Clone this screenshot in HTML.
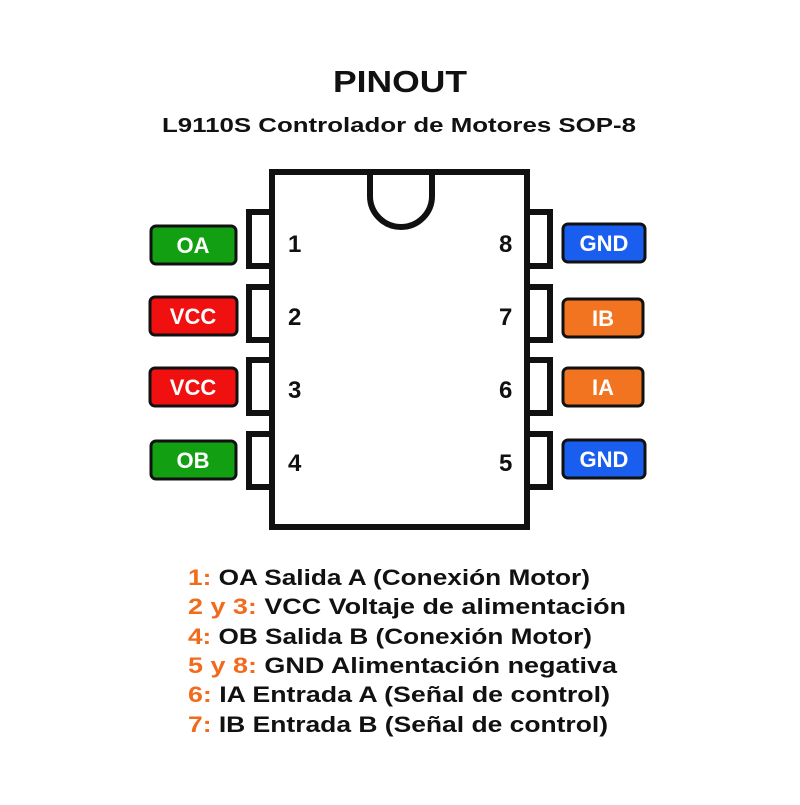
<!DOCTYPE html>
<html><head><style>html,body{margin:0;padding:0;background:#fff}</style></head><body>
<svg width="800" height="800" viewBox="0 0 800 800" xmlns="http://www.w3.org/2000/svg" font-family="Liberation Sans, sans-serif" font-weight="bold">
<rect width="800" height="800" fill="#fff"/>
<text x="333" y="92" font-size="31" textLength="134" lengthAdjust="spacingAndGlyphs" fill="#111">PINOUT</text>
<text x="162" y="132" font-size="20" textLength="474" lengthAdjust="spacingAndGlyphs" fill="#111">L9110S Controlador de Motores SOP-8</text>
<g fill="none" stroke="#111" stroke-width="6">
<rect x="272" y="172" width="255" height="355"/>
<path d="M370 172 V196 A31 31 0 0 0 432 196 V172"/>
<path d="M272 212 H249 V266 H272 M272 287 H249 V340 H272 M272 360 H249 V413 H272 M272 434 H249 V487 H272"/>
<path d="M527 212 H550 V266 H527 M527 287 H550 V340 H527 M527 360 H550 V413 H527 M527 434 H550 V487 H527"/>
</g>
<g stroke="#111" stroke-width="3">
<rect x="151" y="226" width="85" height="38" rx="5" fill="#12a012"/>
<rect x="150" y="297" width="87" height="38" rx="5" fill="#f01010"/>
<rect x="150" y="368" width="87" height="38" rx="5" fill="#f01010"/>
<rect x="151" y="441" width="85" height="38" rx="5" fill="#12a012"/>
<rect x="563" y="224" width="82" height="38" rx="5" fill="#1a5ef0"/>
<rect x="563" y="299" width="80" height="38" rx="5" fill="#f27420"/>
<rect x="563" y="368" width="80" height="38" rx="5" fill="#f27420"/>
<rect x="563" y="440" width="82" height="38" rx="5" fill="#1a5ef0"/>
</g>
<g fill="#fff" font-size="22" text-anchor="middle">
<text x="193" y="253">OA</text><text x="193" y="324">VCC</text><text x="193" y="395">VCC</text><text x="193" y="468">OB</text>
<text x="604" y="251">GND</text><text x="603" y="326">IB</text><text x="603" y="395">IA</text><text x="604" y="467">GND</text>
</g>
<g fill="#111" font-size="24">
<text x="288" y="252">1</text><text x="288" y="325">2</text><text x="288" y="398">3</text><text x="288" y="471">4</text>
<text x="499" y="252">8</text><text x="499" y="325">7</text><text x="499" y="398">6</text><text x="499" y="471">5</text>
</g>
<g font-size="22" fill="#111" lengthAdjust="spacingAndGlyphs">
<text x="188" y="585" textLength="402" lengthAdjust="spacingAndGlyphs"><tspan fill="#f26a1b">1:</tspan> OA Salida A (Conexión Motor)</text>
<text x="188" y="614" textLength="438" lengthAdjust="spacingAndGlyphs"><tspan fill="#f26a1b">2 y 3:</tspan> VCC Voltaje de alimentación</text>
<text x="188" y="644" textLength="404" lengthAdjust="spacingAndGlyphs"><tspan fill="#f26a1b">4:</tspan> OB Salida B (Conexión Motor)</text>
<text x="188" y="673" textLength="429" lengthAdjust="spacingAndGlyphs"><tspan fill="#f26a1b">5 y 8:</tspan> GND Alimentación negativa</text>
<text x="188" y="702" textLength="422" lengthAdjust="spacingAndGlyphs"><tspan fill="#f26a1b">6:</tspan> IA Entrada A (Señal de control)</text>
<text x="188" y="732" textLength="420" lengthAdjust="spacingAndGlyphs"><tspan fill="#f26a1b">7:</tspan> IB Entrada  B (Señal de control)</text>
</g>
</svg>
</body></html>
